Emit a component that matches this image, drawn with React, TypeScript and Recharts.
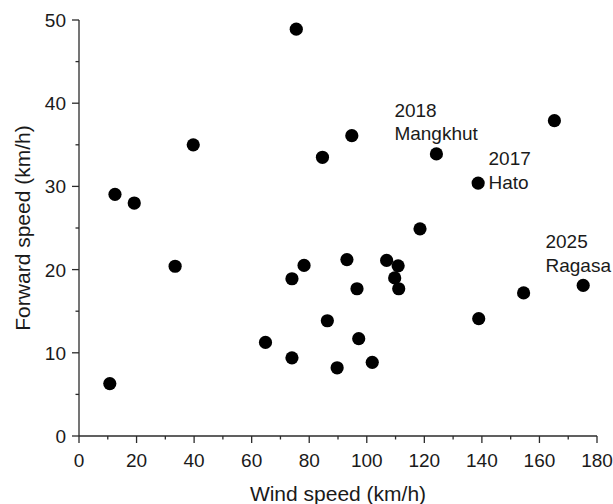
import { ScatterChart, Scatter, XAxis, YAxis, Label } from 'recharts';

// wind speed (km/h) vs forward speed (km/h), one entry per typhoon
const windSpeed = [10.7, 12.5, 19.2, 33.4, 39.7, 75.5, 94.8, 84.6, 118.5, 78.2, 74.0, 93.1, 106.9, 110.9, 109.7, 111.1, 96.6, 86.3, 97.2, 64.8, 74.0, 89.7, 101.9, 154.5, 175.2, 138.9, 165.2, 124.2, 138.7];
const forwardSpeed = [6.3, 29.05, 28.0, 20.4, 35.0, 48.9, 36.1, 33.5, 24.9, 20.5, 18.9, 21.2, 21.1, 20.45, 19.0, 17.7, 17.7, 13.85, 11.7, 11.25, 9.4, 8.2, 8.85, 17.2, 18.1, 14.1, 37.9, 33.9, 30.4];

// annotations (anchored at the first line's baseline, in data units)
const noteYears = ['2018', '2017', '2025'];
const noteNames = ['Mangkhut', 'Hato', 'Ragasa'];
const noteX = [109.6, 142.3, 162.1];
const noteY = [38.4, 32.6, 22.6];

const xTicks = [0, 10, 20, 30, 40, 50, 60, 70, 80, 90, 100, 110, 120, 130, 140, 150, 160, 170, 180];
const yTicks = [0, 5, 10, 15, 20, 25, 30, 35, 40, 45, 50];

const points = windSpeed.map((x, i) => ({ x, y: forwardSpeed[i] }));
const notes = noteYears.map((year, i) => ({ x: noteX[i], y: noteY[i], year, name: noteNames[i] }));

const FONT = '"Liberation Sans", Arial, sans-serif';
const INK = '#1a1a1a';
const AXIS = '#2b2b2b';

const XTick = (props: any) => {
  const { x, y, payload } = props;
  const major = payload.value % 20 === 0;
  return (
    <g>
      <line x1={x} x2={x} y1={y} y2={y + (major ? 7 : 3.5)} stroke={AXIS} strokeWidth={1.3} />
      {major && (
        <text x={x} y={y + 31} textAnchor="middle" fontSize={19} fontFamily={FONT} fill={INK}>
          {payload.value}
        </text>
      )}
    </g>
  );
};

const YTick = (props: any) => {
  const { x, y, payload } = props;
  const major = payload.value % 10 === 0;
  return (
    <g>
      <line x1={x} x2={x - (major ? 7 : 3.5)} y1={y} y2={y} stroke={AXIS} strokeWidth={1.3} />
      {major && (
        <text x={x - 13} y={y + 7} textAnchor="end" fontSize={19} fontFamily={FONT} fill={INK}>
          {payload.value}
        </text>
      )}
    </g>
  );
};

const Dot = (props: any) => <circle cx={props.cx} cy={props.cy} r={6.6} fill="#000" />;

const Note = (props: any) => {
  const { cx, cy, payload } = props;
  return (
    <text x={cx} y={cy} fontSize={19} fontFamily={FONT} fill={INK}>
      <tspan x={cx}>{payload.year}</tspan>
      <tspan x={cx} dy={23.8}>{payload.name}</tspan>
    </text>
  );
};

export default function App() {
  return (
    <div style={{ position: 'absolute', left: 0, top: 0, width: 613, height: 504, background: '#fff' }}>
      <ScatterChart width={613} height={504} margin={{ top: 20, right: 16, bottom: 0, left: 0 }}>
        <XAxis
          type="number"
          dataKey="x"
          domain={[0, 180]}
          ticks={xTicks}
          interval={0}
          height={68}
          tickSize={0}
          tickMargin={0}
          tickLine={false}
          axisLine={{ stroke: AXIS, strokeWidth: 1.3 }}
          tick={<XTick />}
        >
          <Label
            content={(p: any) => (
              <text
                x={p.viewBox.x + p.viewBox.width / 2}
                y={p.viewBox.y + 64.5}
                textAnchor="middle"
                fontSize={21}
                fontFamily={FONT}
                fill={INK}
              >
                Wind speed (km/h)
              </text>
            )}
          />
        </XAxis>
        <YAxis
          type="number"
          dataKey="y"
          domain={[0, 50]}
          ticks={yTicks}
          interval={0}
          width={79}
          tickSize={0}
          tickMargin={0}
          tickLine={false}
          axisLine={{ stroke: AXIS, strokeWidth: 1.3 }}
          tick={<YTick />}
        >
          <Label
            content={(p: any) => {
              const cy = p.viewBox.y + p.viewBox.height / 2;
              return (
                <text
                  x={30}
                  y={cy}
                  transform={`rotate(-90 30 ${cy})`}
                  textAnchor="middle"
                  fontSize={21}
                  fontFamily={FONT}
                  fill={INK}
                >
                  Forward speed (km/h)
                </text>
              );
            }}
          />
        </YAxis>
        <Scatter data={points} shape={<Dot />} isAnimationActive={false} />
        <Scatter data={notes} shape={<Note />} isAnimationActive={false} />
      </ScatterChart>
    </div>
  );
}
